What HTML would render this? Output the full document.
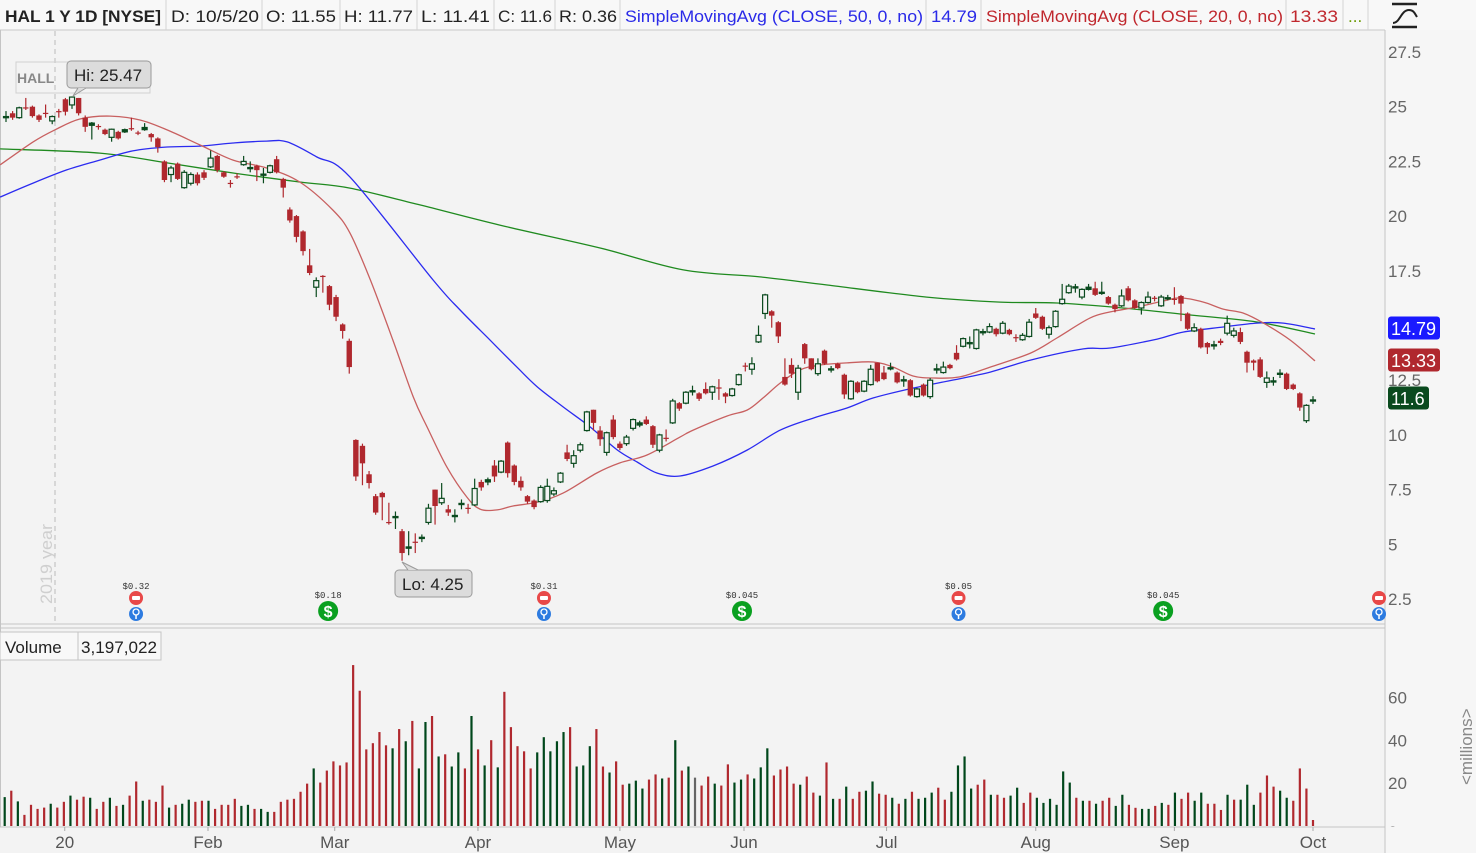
<!DOCTYPE html>
<html><head><meta charset="utf-8">
<style>
html,body{margin:0;padding:0;background:#f3f3f3;width:1476px;height:853px;overflow:hidden;font-family:"Liberation Sans",sans-serif;}
svg{display:block}
</style></head>
<body>
<svg id="chart" width="1476" height="853" viewBox="0 0 1476 853" xmlns="http://www.w3.org/2000/svg">
  <defs><clipPath id="volclip"><rect x="1386" y="630" width="90" height="197"/></clipPath></defs>
  <rect x="0" y="0" width="1476" height="853" fill="#f3f3f3"/>
  <rect x="1385" y="30" width="91" height="823" fill="#f6f6f6"/>
  <g id="header" font-size="17" fill="#222">
    <rect x="0" y="0" width="1476" height="30" fill="#f8f8f8"/>
    <line x1="0" y1="30" x2="1385" y2="30" stroke="#c8c8c8"/>
    <text x="5" y="22" font-weight="bold" textLength="156" lengthAdjust="spacingAndGlyphs">HAL 1 Y 1D [NYSE]</text>
    <text x="171" y="22" textLength="88" lengthAdjust="spacingAndGlyphs">D: 10/5/20</text>
    <text x="266" y="22" textLength="70" lengthAdjust="spacingAndGlyphs">O: 11.55</text>
    <text x="344" y="22" textLength="69" lengthAdjust="spacingAndGlyphs">H: 11.77</text>
    <text x="421" y="22" textLength="69" lengthAdjust="spacingAndGlyphs">L: 11.41</text>
    <text x="498" y="22" textLength="54" lengthAdjust="spacingAndGlyphs">C: 11.6</text>
    <text x="559" y="22" textLength="58" lengthAdjust="spacingAndGlyphs">R: 0.36</text>
    <text x="625" y="22" fill="#2a2ae8" textLength="298" lengthAdjust="spacingAndGlyphs">SimpleMovingAvg (CLOSE, 50, 0, no)</text>
    <text x="931" y="22" fill="#2a2ae8" textLength="46" lengthAdjust="spacingAndGlyphs">14.79</text>
    <text x="986" y="22" fill="#c0282e" textLength="297" lengthAdjust="spacingAndGlyphs">SimpleMovingAvg (CLOSE, 20, 0, no)</text>
    <text x="1290" y="22" fill="#c0282e" textLength="48" lengthAdjust="spacingAndGlyphs">13.33</text>
    <text x="1348" y="22" fill="#6a9a00">...</text>
    <g stroke="#d4d4d4">
      <line x1="166" y1="0" x2="166" y2="30"/><line x1="262" y1="0" x2="262" y2="30"/>
      <line x1="340" y1="0" x2="340" y2="30"/><line x1="417" y1="0" x2="417" y2="30"/>
      <line x1="494" y1="0" x2="494" y2="30"/><line x1="555" y1="0" x2="555" y2="30"/>
      <line x1="620" y1="0" x2="620" y2="30"/><line x1="926" y1="0" x2="926" y2="30"/>
      <line x1="981" y1="0" x2="981" y2="30"/><line x1="1286" y1="0" x2="1286" y2="30"/>
      <line x1="1343" y1="0" x2="1343" y2="30"/><line x1="1368" y1="0" x2="1368" y2="30"/>
    </g>
    <g stroke="#222" stroke-width="2.5" fill="none">
      <line x1="1392" y1="4" x2="1417" y2="4"/><line x1="1392" y1="27" x2="1417" y2="27"/>
      <path d="M1393 23 C1400 23 1401 10 1409 10 C1414 10 1415 14 1417 17" stroke-width="2"/>
    </g>
  </g>
  <g id="frame" stroke="#c4c4c4" fill="none">
    <line x1="1385" y1="30" x2="1385" y2="853"/>
    <line x1="0" y1="624" x2="1385" y2="624"/>
    <line x1="0" y1="628" x2="1385" y2="628"/>
    <line x1="0" y1="827" x2="1385" y2="827"/>
    <line x1="0.5" y1="30" x2="0.5" y2="827"/>
  </g>
  <g>
    <line x1="55" y1="31" x2="55" y2="622" stroke="#bbb" stroke-dasharray="5,4"/>
    <text x="52" y="604" font-size="17" fill="#cfcfcf" transform="rotate(-90 52 604)" textLength="80" lengthAdjust="spacingAndGlyphs">2019 year</text>
  </g>
  <g>
    <rect x="16" y="62" width="134" height="31" fill="none" stroke="#d0d0d0"/>
    <text x="17" y="83" font-size="14" font-weight="bold" fill="#888">HALL</text>
  </g>
  <g id="price-axis" font-size="17" fill="#666"></g>
  <g id="vol-axis" font-size="17" fill="#666" clip-path="url(#volclip)"></g>
  <g id="date-axis" font-size="17" fill="#555"></g>
  <g id="ma-lines"></g>
  <g id="candles"></g>
  <g id="volume"></g>
  <g id="events"></g>
  <g>
    <rect x="67" y="61" width="84" height="27" rx="4" fill="#dcdcdc" stroke="#9a9a9a"/>
    <path d="M78 88 L73 96 L86 88" fill="#dcdcdc" stroke="#9a9a9a"/>
    <text x="74" y="81" font-size="17" fill="#222">Hi: 25.47</text>
  </g>
  <g>
    <rect x="395" y="570" width="77" height="27" rx="4" fill="#dcdcdc" stroke="#9a9a9a"/>
    <path d="M408 570 L402 562 L418 570" fill="#dcdcdc" stroke="#9a9a9a"/>
    <text x="402" y="590" font-size="17" fill="#222">Lo: 4.25</text>
  </g>
  <g>
    <rect x="0" y="632" width="161" height="28" fill="#f8f8f8" stroke="#c4c4c4"/>
    <line x1="78" y1="632" x2="78" y2="660" stroke="#c4c4c4"/>
    <text x="5" y="653" font-size="17" fill="#222">Volume</text>
    <text x="81" y="653" font-size="17" fill="#222" textLength="76" lengthAdjust="spacingAndGlyphs">3,197,022</text>
  </g>
  <text x="1472" y="785" font-size="17" fill="#888" transform="rotate(-90 1472 785)">&lt;millions&gt;</text>
  <g id="last-labels" font-size="18"></g>
</svg>
<script>
const NS='http://www.w3.org/2000/svg';
// ---- data ----
const opens=[24.5,24.7,24.5,24.97,25.0,24.6,24.72,24.35,24.8,25.34,25.08,25.4,24.5,24.15,24.12,23.95,23.6,23.85,23.85,24.02,23.82,23.95,23.75,23.55,22.5,21.9,22.4,21.3,21.5,21.9,22.0,22.25,22.75,22.0,21.52,21.82,22.35,22.18,22.3,21.88,22.0,22.6,21.7,20.3,20.0,19.3,17.75,16.75,17.27,16.8,16.3,15.05,14.3,9.77,9.5,8.2,7.2,7.35,6.02,6.23,5.6,4.82,5.12,5.28,6.0,7.5,6.9,6.6,6.28,6.83,6.67,6.8,7.85,7.85,8.6,8.3,9.65,8.6,7.9,7.2,7.0,6.95,7.0,7.3,7.85,9.2,8.7,9.3,10.2,11.15,10.2,9.2,10.7,9.6,9.6,10.3,10.45,10.7,10.4,9.3,9.87,10.55,11.45,11.45,11.98,11.9,12.1,11.95,12.17,11.9,11.8,12.3,13.17,13.0,14.25,15.55,15.65,15.15,12.65,13.2,11.95,14.15,13.5,12.8,13.85,12.98,13.25,12.75,11.65,12.4,12.0,12.3,13.3,12.85,13.03,12.85,12.48,12.5,11.75,12.3,11.75,12.98,12.85,13.2,13.75,14.05,14.18,13.95,14.68,14.7,14.85,14.65,14.8,14.47,14.35,14.5,15.55,15.4,14.6,14.95,16.0,16.5,16.73,16.3,16.65,16.7,16.48,16.3,15.95,15.9,16.7,16.15,15.8,16.05,16.27,15.9,16.23,16.22,16.35,15.55,14.75,14.85,14.2,14.08,14.3,14.65,14.55,14.7,13.8,13.4,13.45,12.4,12.43,12.78,12.8,12.3,11.9,10.65,11.55];
const closes=[24.55,24.5,24.95,24.93,24.57,24.4,24.68,24.55,24.75,24.77,25.44,24.7,24.08,24.25,24.08,23.75,23.97,23.55,23.95,23.98,23.78,24.05,23.6,23.15,21.65,22.2,21.7,22.0,21.9,21.5,21.75,22.65,22.1,21.8,21.48,21.78,22.5,22.22,22.1,21.92,22.3,22.0,21.3,19.8,19.05,18.4,17.4,17.05,17.23,15.95,15.4,14.75,13.1,8.1,8.7,7.8,6.45,7.15,5.98,6.27,4.6,4.88,5.08,5.32,6.65,6.75,7.1,6.45,6.32,6.87,6.63,7.55,7.6,7.95,8.1,8.8,8.25,7.85,7.6,6.95,6.7,7.6,7.65,7.45,8.25,8.9,9.05,9.55,11.05,10.55,9.8,10.1,9.9,9.4,9.9,10.7,10.55,10.5,9.55,10.0,9.83,11.55,11.2,11.95,12.02,11.65,11.9,12.2,12.13,11.75,12.1,12.75,13.13,13.25,14.55,16.4,15.45,14.5,12.3,12.8,13.05,13.5,13.0,13.25,13.25,13.02,13.05,11.85,12.45,11.95,12.45,13.0,12.45,12.55,13.07,12.4,12.52,11.8,12.1,11.8,12.5,13.02,13.1,13.05,13.45,14.4,14.22,14.8,14.72,14.95,14.6,15.1,14.6,14.43,14.55,15.15,15.35,14.85,14.9,15.65,16.2,16.8,16.77,16.65,16.75,16.4,16.52,16.0,15.75,16.35,16.15,15.8,16.05,16.3,16.23,16.3,16.27,16.18,16.0,14.85,14.9,14.0,14.0,14.12,14.2,15.1,14.75,14.25,13.3,13.3,12.65,12.6,12.47,12.82,12.1,12.1,11.25,11.35,11.6];
const highs=[24.8,24.8,25.0,25.4,25.05,24.65,25.1,24.6,24.9,25.4,25.47,25.4,24.6,24.3,24.2,24.0,24.0,23.9,24.0,24.5,23.9,24.25,23.8,23.6,22.55,22.3,22.45,22.1,22.0,22.0,22.1,23.0,22.8,22.05,21.65,21.95,22.75,22.5,22.35,22.2,22.35,22.75,21.75,20.4,20.05,19.35,18.5,17.2,17.3,16.85,16.4,15.1,14.4,9.8,9.6,8.35,7.3,7.4,6.9,6.5,5.7,5.6,5.5,5.45,6.85,7.5,7.8,6.8,6.6,7.05,6.85,8.0,7.95,8.05,8.85,8.85,9.7,8.65,8.1,7.25,7.05,7.7,8.0,7.6,8.3,9.55,9.3,9.65,11.1,11.15,10.4,10.15,10.9,9.7,10.0,10.75,10.65,10.85,10.45,10.05,10.25,11.65,11.5,12.0,12.25,11.95,12.4,12.25,12.55,11.95,12.15,12.8,13.3,13.55,15.0,16.45,15.7,15.2,13.5,13.5,13.2,14.2,13.5,13.5,13.9,13.15,13.3,12.8,12.5,12.45,12.5,13.2,13.3,13.15,13.3,12.9,12.7,12.55,12.15,12.35,12.6,13.25,13.35,13.25,14.1,14.45,14.5,14.85,14.85,15.1,14.9,15.2,14.85,14.6,14.65,15.3,15.8,15.45,15.0,15.7,16.9,16.9,16.9,16.7,16.9,17.0,17.0,16.35,16.0,16.65,16.8,16.2,16.1,16.55,16.35,16.4,16.4,16.75,16.4,15.6,15.1,14.9,14.25,14.3,14.4,15.45,14.9,14.9,13.85,13.45,13.55,12.9,12.65,13.0,12.85,12.35,11.95,11.4,11.77];
const lows=[24.3,24.4,24.45,24.85,24.5,24.3,24.5,24.2,24.5,24.6,24.9,24.6,23.85,23.5,23.95,23.7,23.4,23.5,23.8,23.9,23.7,23.9,23.4,22.9,21.55,21.55,21.65,21.25,21.4,21.4,21.65,22.2,22.0,21.75,21.3,21.7,22.3,22.0,21.6,21.5,21.95,21.95,20.85,19.7,18.8,18.2,17.3,16.3,16.5,15.7,15.2,14.4,12.8,7.9,7.7,7.55,6.35,6.1,5.9,5.7,4.25,4.5,4.6,5.1,5.9,5.9,6.8,6.3,6.0,6.6,6.4,6.75,7.45,7.7,7.85,8.25,8.05,7.7,7.45,6.85,6.6,6.9,6.9,7.2,7.8,8.8,8.5,9.2,10.15,10.2,9.5,9.05,9.8,9.3,9.5,10.2,10.35,10.45,9.4,9.2,9.7,10.5,11.1,11.4,11.8,11.55,11.85,11.6,11.6,11.45,11.75,12.25,12.9,12.75,14.2,15.3,14.9,14.2,12.25,12.6,11.6,13.25,12.95,12.7,13.2,12.85,13.0,11.65,11.6,11.9,11.95,12.25,12.4,12.5,12.95,12.35,12.2,11.75,11.7,11.75,11.65,12.8,12.8,13.0,13.4,14.0,13.95,13.9,14.55,14.65,14.5,14.6,14.55,14.25,14.3,14.45,15.3,14.8,14.4,14.9,15.95,16.45,16.5,16.2,16.6,16.35,16.4,15.95,15.6,15.85,16.1,15.75,15.5,16.0,16.1,15.85,16.15,15.95,15.2,14.8,14.7,13.95,13.7,13.9,14.1,14.55,14.45,14.15,12.85,12.95,12.6,12.15,12.25,12.6,12.05,12.05,11.1,10.55,11.41];
const volumes=[13.5,16.5,11.5,5.2,9.9,8.0,8.6,10.4,8.6,11.3,14.2,12.3,13.7,13.2,8.0,11.3,13.2,9.4,9.9,14.2,20.8,11.8,12.3,11.3,18.9,8.6,9.9,10.4,12.3,11.3,11.8,11.8,8.0,9.9,9.9,12.7,9.4,9.9,8.0,8.0,6.6,6.6,11.3,12.3,12.7,16.0,19.8,26.9,20.3,25.9,30.2,28.3,29.7,75.2,63.2,35.8,38.7,43.9,37.7,36.3,45.3,39.6,49.1,26.9,48.6,51.4,32.5,33.5,27.8,34.4,26.9,51.4,35.8,28.3,40.1,27.4,62.7,46.2,37.3,34.9,26.9,34.4,41.5,34.9,39.6,43.9,46.2,27.8,28.3,37.3,45.3,27.8,25.0,30.2,19.3,19.8,21.2,17.5,21.7,24.1,22.2,22.6,40.1,25.9,27.8,22.6,18.9,23.1,19.8,18.9,28.8,20.3,21.7,24.1,22.2,27.4,36.3,23.6,26.4,27.8,19.8,19.3,23.1,15.6,14.2,29.7,12.7,12.7,18.4,12.7,16.0,16.5,20.8,15.1,14.6,13.2,10.4,12.7,16.0,12.7,13.2,15.6,17.9,12.3,16.0,28.3,32.5,17.5,19.3,21.7,14.6,14.6,13.2,14.2,17.9,10.8,15.6,13.2,10.8,12.7,9.9,25.5,20.3,13.2,11.8,11.8,10.4,11.8,13.2,9.4,14.6,9.9,8.5,8.0,8.0,9.4,10.8,9.9,15.6,12.7,15.6,11.8,15.6,10.4,10.4,7.5,14.6,12.3,12.3,19.3,9.9,15.6,23.6,18.4,16.5,13.2,11.8,26.9,17.5,2.8];
const volumeDir=[1,0,1,0,0,0,0,1,0,0,1,0,0,1,0,0,1,0,1,0,0,1,0,0,0,1,0,1,1,0,0,1,0,0,0,0,1,1,0,1,1,0,0,0,0,0,0,1,0,0,0,0,0,0,0,0,0,0,0,1,0,1,0,1,1,0,1,0,1,1,0,1,0,1,0,1,0,0,0,0,0,1,1,1,1,1,0,1,1,1,0,0,1,0,0,1,1,1,0,0,1,0,1,0,1,2,0,0,1,0,0,1,1,0,1,1,1,0,0,0,0,1,0,0,1,0,1,0,1,0,0,1,1,0,0,1,0,1,0,1,1,1,0,0,1,1,1,1,0,0,1,0,0,1,1,0,0,1,1,1,1,1,1,0,1,0,1,0,0,1,1,0,0,1,1,0,1,0,1,0,0,1,1,0,0,0,1,0,1,1,1,0,0,0,1,1];
const sma20Idx=[-0.9,4.1,7.4,11.2,15.8,20.3,24.4,29.4,34.4,39.5,44.5,49.5,52.1,55.2,58.6,61.7,63.8,66.8,69.8,71.8,74.4,76.8,80.5,84.4,89.5,93.0,97.1,102.1,104.1,109.2,112.3,114.7,117.3,120.3,123.3,127.4,131.4,134.4,137.4,140.5,144.5,149.1,155.2,159.2,164.2,167.3,171.4,175.3,177.9,181.4,184.4,187.4,190.5,194.5,198.3];
const sma20Val=[22.34,23.39,23.94,24.44,24.57,24.39,23.94,23.25,22.56,22.2,21.56,20.28,19.23,17.08,14.34,11.73,10.36,8.53,7.16,6.61,6.57,6.75,6.93,7.34,8.26,8.72,9.08,9.9,10.22,10.86,11.14,11.69,12.37,12.97,13.19,13.29,13.33,13.1,12.69,12.6,12.65,13.1,13.74,14.43,15.34,15.62,15.85,16.12,16.26,16.07,15.75,15.57,15.11,14.34,13.38];
const sma50Idx=[-0.9,4.1,9.2,14.2,19.2,24.4,29.4,34.4,39.5,42.6,47.1,52.1,64.7,68.8,73.3,77.4,80.5,84.4,88.5,92.6,95.6,98.6,102.1,107.1,112.3,117.3,122.3,127.4,131.4,137.4,143.5,149.1,155.2,163.2,167.3,174.4,178.3,184.4,189.5,193.5,198.3];
const sma50Val=[20.87,21.51,22.11,22.56,22.98,23.16,23.2,23.34,23.43,23.39,22.7,21.79,17.08,15.71,14.34,13.1,12.19,11.28,10.36,9.31,8.76,8.26,8.12,8.58,9.31,10.22,10.77,11.23,11.69,12.14,12.51,12.87,13.42,13.93,13.97,14.38,14.7,14.93,15.11,15.11,14.84];
const sma200Idx=[-0.9,14.2,24.4,34.4,44.5,52.1,62.7,74.8,90.0,102.6,114.2,124.4,139.5,150.6,159.2,169.2,179.4,189.5,198.3];
const sma200Val=[23.07,22.88,22.43,21.97,21.56,21.28,20.51,19.59,18.54,17.54,17.22,16.85,16.3,16.07,16.03,15.8,15.48,15.16,14.61];
const priceTicks=[27.5,25,22.5,20,17.5,15,12.5,10,7.5,5,2.5];
const volumeTicks=[60,40,20,0];
const dateLabels=['20','Feb','Mar','Apr','May','Jun','Jul','Aug','Sep','Oct'];
const dateIdx=[8.9,30.6,49.8,71.5,93,111.8,133.4,156,177,198];
const eventLabels=['$0.32','$0.18','$0.31','$0.045','$0.05','$0.045',''];
const eventIdx=[19.7,48.8,81.5,111.5,144.3,175.3,208.0];
const eventKind=['earn','div','earn','div','earn','div','earn'];
// ---- scales ----
const xC=i=>6+i*(1307/198);
const xV=i=>4.7+i*(1308.3/199);
const yP=v=>52+(27.5-v)*21.88;
const yV=v=>826-v*2.14;
function mk(tag,attrs,parent){const e=document.createElementNS(NS,tag);for(const k in attrs)e.setAttribute(k,attrs[k]);parent.appendChild(e);return e;}
// axes
const pa=document.getElementById('price-axis');
priceTicks.forEach(v=>{const t=mk('text',{x:1388,y:yP(v)+6},pa);t.textContent=String(v);

});
const va=document.getElementById('vol-axis');
volumeTicks.forEach(v=>{const t=mk('text',{x:1388,y:yV(v)+(v===0?12:6)},va);t.textContent=String(v);

});
const da=document.getElementById('date-axis');
dateLabels.forEach((d,k)=>{const x=xC(dateIdx[k]);mk('line',{x1:x,y1:827,x2:x,y2:831,stroke:'#aaa'},da);
const t=mk('text',{x:x,y:848,'text-anchor':'middle'},da);t.textContent=d;

});
// MAs (smoothed Catmull-Rom through read points)
const mg=document.getElementById('ma-lines');
function ma(idx,val,color,name){
const pts=idx.map((i,k)=>[Math.max(0,xC(i)),yP(val[k])]);
let d='M'+pts[0][0].toFixed(1)+' '+pts[0][1].toFixed(1);
for(let k=0;k<pts.length-1;k++){const p0=pts[Math.max(0,k-1)],p1=pts[k],p2=pts[k+1],p3=pts[Math.min(pts.length-1,k+2)];
const c1=[p1[0]+(p2[0]-p0[0])/6,p1[1]+(p2[1]-p0[1])/6],c2=[p2[0]-(p3[0]-p1[0])/6,p2[1]-(p3[1]-p1[1])/6];
d+=' C'+c1[0].toFixed(1)+' '+c1[1].toFixed(1)+' '+c2[0].toFixed(1)+' '+c2[1].toFixed(1)+' '+p2[0].toFixed(1)+' '+p2[1].toFixed(1);}
const p=mk('path',{d:d,fill:'none',stroke:color,'stroke-width':1.3},mg);

}
ma(sma200Idx,sma200Val,'#1f8a1f','sma-200-line');
ma(sma50Idx,sma50Val,'#2b2bf0','sma-50-line');
ma(sma20Idx,sma20Val,'#c86060','sma-20-line');
// candles
const cg=document.getElementById('candles');
opens.forEach((o,i)=>{const c=closes[i],x=xC(i),up=c>=o;const col=up?'#0a4a1e':'#b0282e';
const g=mk('g',{},cg);


mk('line',{x1:x,y1:yP(highs[i]),x2:x,y2:yP(lows[i]),stroke:col,'stroke-width':1.2},g);
const top=yP(Math.max(o,c)),bot=yP(Math.min(o,c));const h=Math.max(1.2,bot-top);
if(up){mk('rect',{x:x-2.5,y:top,width:5,height:h,fill:h<3?col:'#f3f3f3',stroke:col,'stroke-width':1.2},g);}
else{mk('rect',{x:x-2.7,y:top,width:5.4,height:h,fill:col},g);}
});
// volume
const vg=document.getElementById('volume');
volumes.forEach((v,i)=>{const y=yV(v);const col=volumeDir[i]==1?'#00471b':(volumeDir[i]==2?'#666':'#b0282e');
const r=mk('rect',{x:xV(i)-1.1,y:y,width:2.2,height:826-y,fill:col},vg);

});
// events
const eg=document.getElementById('events');
eventIdx.forEach((ix,k)=>{const x=xC(ix);const g=mk('g',{},eg);


if(eventLabels[k]){const t=mk('text',{x:x,y:eventKind[k]=='div'?598:589,'text-anchor':'middle','font-size':9,'font-family':'Liberation Mono, monospace',fill:'#333'},g);t.textContent=eventLabels[k];}
if(eventKind[k]=='div'){mk('circle',{cx:x,cy:611,r:10,fill:'#0aa020'},g);const s=mk('text',{x:x,y:617,'text-anchor':'middle','font-size':16,'font-weight':'bold',fill:'#fff'},g);s.textContent='$';}
else{mk('circle',{cx:x,cy:598,r:7,fill:'#e84848'},g);mk('rect',{x:x-4,y:596,width:8,height:4,rx:1,fill:'#fff'},g);
mk('circle',{cx:x,cy:614,r:7,fill:'#2d7be0'},g);mk('circle',{cx:x,cy:612,r:3,fill:'none',stroke:'#fff','stroke-width':1.3},g);mk('line',{x1:x,y1:615,x2:x,y2:619,stroke:'#fff','stroke-width':1.5},g);}
});
// last value labels
const ll=document.getElementById('last-labels');
const lastVals=[14.79,13.33,11.6];const lastCols=['#1a1aff','#b0282e','#0a4a1e'];const lastNames=['sma50-last-label','sma20-last-label','close-last-label'];
const lastY=[328,360,398];
lastVals.forEach((v,k)=>{const g=mk('g',{},ll);


const w=k==2?41:52;mk('rect',{x:1388,y:lastY[k]-11.5,width:w,height:23,rx:3,fill:lastCols[k]},g);
const t=mk('text',{x:1391,y:lastY[k]+7,fill:'#fff'},g);t.textContent=String(v);});
</script>
</body></html>
